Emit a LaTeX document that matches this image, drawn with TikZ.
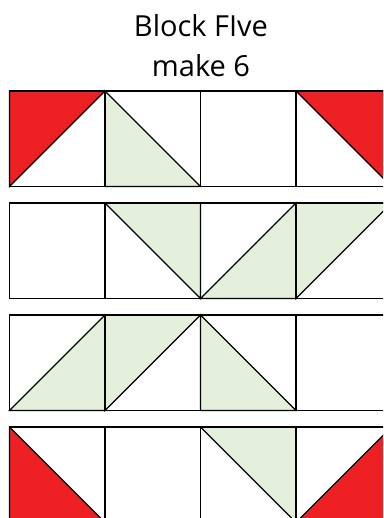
\documentclass[tikz,border=0pt]{standalone}
\usepackage{fontspec}
\setmainfont{Open Sans}
\definecolor{PatchRed}{HTML}{ED2024}
\definecolor{PatchGreen}{HTML}{E5F0DC}

\begin{document}
\begin{tikzpicture}[x=1pt, y=-1pt,
    seam/.style={draw=black, line width=1.1pt, line join=miter},
    redpatch/.style={seam, fill=PatchRed},
    greenpatch/.style={seam, fill=PatchGreen},
    heading/.style={anchor=base, font=\fontsize{29}{36}\selectfont}]
      \useasboundingbox (0,0) rectangle (383,518);
      \clip (0,0) rectangle (383,518);

      % --- Title ---
      \node[heading] (title) at (201,37) {Block FIve};
      \node[heading] (count) at (201,77) {make 6};

      % --- Corner points of every square (row r, column c) ---
      \foreach \r in {1,...,4} {
        \foreach \c in {1,...,4} {
          \pgfmathsetmacro{\xa}{9.5+95.5*(\c-1)}
          \pgfmathsetmacro{\ya}{91+112*(\r-1)}
          \coordinate (tl\r\c) at (\xa,\ya);
          \coordinate (tr\r\c) at (\xa+95.5,\ya);
          \coordinate (br\r\c) at (\xa+95.5,\ya+95.5);
          \coordinate (bl\r\c) at (\xa,\ya+95.5);
        }
      }

      % --- Row 1 ---
      \filldraw[redpatch]   (tl11) -- (tr11) -- (bl11) -- cycle;
      \filldraw[greenpatch] (tl12) -- (br12) -- (bl12) -- cycle;
      \filldraw[redpatch]   (tl14) -- (tr14) -- (br14) -- cycle;

      % --- Row 2 ---
      \filldraw[greenpatch] (tl22) -- (tr22) -- (br22) -- cycle;
      \filldraw[greenpatch] (bl23) -- (tr23) -- (br23) -- cycle;
      \filldraw[greenpatch] (tl24) -- (tr24) -- (bl24) -- cycle;

      % --- Row 3 ---
      \filldraw[greenpatch] (bl31) -- (tr31) -- (br31) -- cycle;
      \filldraw[greenpatch] (tl32) -- (tr32) -- (bl32) -- cycle;
      \filldraw[greenpatch] (tl33) -- (br33) -- (bl33) -- cycle;

      % --- Row 4 ---
      \filldraw[redpatch]   (tl41) -- (br41) -- (bl41) -- cycle;
      \filldraw[greenpatch] (tl43) -- (tr43) -- (br43) -- cycle;
      \filldraw[redpatch]   (bl44) -- (tr44) -- (br44) -- cycle;

      % --- Square outlines ---
      \foreach \r in {1,...,4} {
        \foreach \c in {1,...,4} {
          \draw[seam] (tl\r\c) rectangle (br\r\c);
        }
      }
  \end{tikzpicture}
\end{document}
